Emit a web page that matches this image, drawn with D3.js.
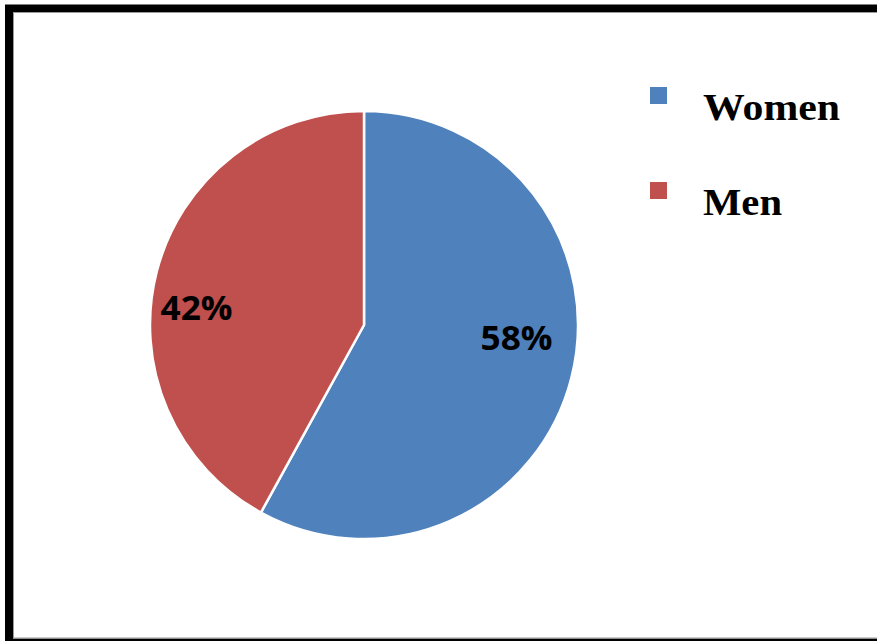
<!DOCTYPE html>
<html>
<head>
<meta charset="utf-8">
<script src="https://cdn.jsdelivr.net/npm/d3@7/dist/d3.min.js"></script>
<style>
  html, body { margin: 0; padding: 0; background: #fff; }
  svg { display: block; }
</style>
</head>
<body>
<svg id="chart" width="877" height="641"></svg>
<script>
// Gender split
const categories = ["Women", "Men"];
const values = [58, 42];
const colors = ["#4F81BD", "#C0504D"];

const svg = d3.select("#chart");

// Frame
svg.append("rect")
  .attr("x", 9).attr("y", 8.5)
  .attr("width", 920).attr("height", 634)
  .attr("fill", "none").attr("stroke", "#000").attr("stroke-width", 8);
svg.append("rect")
  .attr("x", 13.5).attr("y", 12.5)
  .attr("width", 920).attr("height", 625.5)
  .attr("fill", "none").attr("stroke", "#9a9a9a").attr("stroke-width", 1);

const data = categories.map((c, i) => ({ name: c, value: values[i], color: colors[i] }));

const cx = 364, cy = 325, r = 214;
const pie = d3.pie().value(d => d.value).sort(null);
const arc = d3.arc().innerRadius(0).outerRadius(r);
const arcs = pie(data);

const g = svg.append("g").attr("transform", `translate(${cx},${cy})`);
g.selectAll("path.slice")
  .data(arcs)
  .join("path")
  .attr("class", "slice")
  .attr("d", arc)
  .attr("fill", d => d.data.color)
  .attr("stroke", "#fff")
  .attr("stroke-width", 2.5)
  .attr("stroke-linejoin", "round");

// Percentage labels, placed toward the outer edge of each slice
const labelPlace = {
  Women: { dx: 152.5, dy: 25 },
  Men: { dx: -167.5, dy: -5 }
};
g.selectAll("text.pct")
  .data(arcs)
  .join("text")
  .attr("class", "pct")
  .attr("x", d => labelPlace[d.data.name].dx)
  .attr("y", d => labelPlace[d.data.name].dy)
  .attr("text-anchor", "middle")
  .attr("font-family", "'Open Sans', sans-serif")
  .attr("font-weight", "bold")
  .attr("font-size", 34)
  .attr("fill", "#000")
  .attr("textLength", 72)
  .attr("lengthAdjust", "spacingAndGlyphs")
  .text(d => d.data.value + "%");

// Legend
const legend = svg.append("g").attr("transform", "translate(650,87)");
const item = legend.selectAll("g.item")
  .data(data)
  .join("g")
  .attr("class", "item")
  .attr("transform", (d, i) => `translate(0,${i * 95})`);
item.append("rect")
  .attr("x", 0).attr("y", 0)
  .attr("width", 17).attr("height", 17)
  .attr("fill", d => d.color);
item.append("text")
  .attr("x", 53)
  .attr("y", 33)
  .attr("font-family", "'Liberation Serif', 'Times New Roman', serif")
  .attr("font-weight", "bold")
  .attr("font-size", 38)
  .attr("fill", "#000")
  .attr("textLength", d => d.name === "Women" ? 137 : 79)
  .attr("lengthAdjust", "spacingAndGlyphs")
  .text(d => d.name);
</script>
</body>
</html>
